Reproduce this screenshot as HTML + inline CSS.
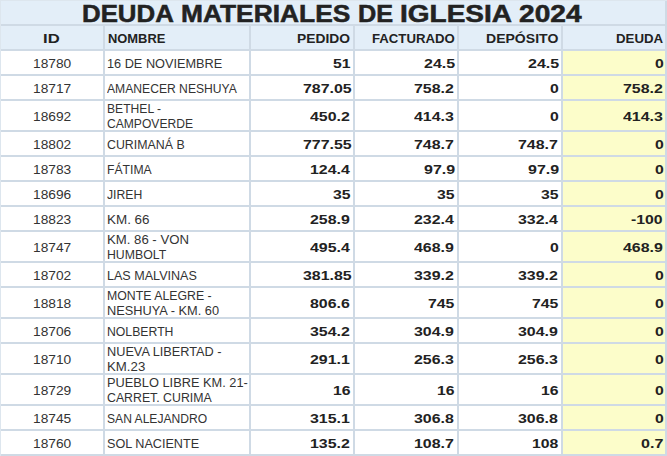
<!DOCTYPE html>
<html><head><meta charset="utf-8"><style>
html,body{margin:0;padding:0;}
body{width:667px;height:456px;overflow:hidden;background:#cfdae5;position:relative;font-family:"Liberation Sans",sans-serif;}
.b{position:absolute;}
span{position:absolute;white-space:nowrap;line-height:30px;transform-origin:0 0;}
</style></head><body>
<div class="b" style="left:0;top:0;width:1px;height:456px;background:#dde6ee"></div>
<div class="b" style="left:0;top:0;width:667px;height:1px;background:#dde6ee"></div>
<div class="b" style="left:1px;top:1px;width:664px;height:23px;background:#e3eef8"></div>
<div class="b" style="left:1px;top:26px;width:102px;height:23px;background:#e3eef8"></div>
<div class="b" style="left:105px;top:26px;width:144px;height:23px;background:#e3eef8"></div>
<div class="b" style="left:251px;top:26px;width:102px;height:23px;background:#e3eef8"></div>
<div class="b" style="left:355px;top:26px;width:102px;height:23px;background:#e3eef8"></div>
<div class="b" style="left:459px;top:26px;width:102px;height:23px;background:#e3eef8"></div>
<div class="b" style="left:563px;top:26px;width:102px;height:23px;background:#e3eef8"></div>
<div class="b" style="left:1px;top:51px;width:102px;height:23px;background:#ffffff"></div>
<div class="b" style="left:105px;top:51px;width:144px;height:23px;background:#ffffff"></div>
<div class="b" style="left:251px;top:51px;width:102px;height:23px;background:#ffffff"></div>
<div class="b" style="left:355px;top:51px;width:102px;height:23px;background:#ffffff"></div>
<div class="b" style="left:459px;top:51px;width:102px;height:23px;background:#ffffff"></div>
<div class="b" style="left:563px;top:51px;width:102px;height:23px;background:#fcfdca"></div>
<div class="b" style="left:1px;top:76px;width:102px;height:23px;background:#ffffff"></div>
<div class="b" style="left:105px;top:76px;width:144px;height:23px;background:#ffffff"></div>
<div class="b" style="left:251px;top:76px;width:102px;height:23px;background:#ffffff"></div>
<div class="b" style="left:355px;top:76px;width:102px;height:23px;background:#ffffff"></div>
<div class="b" style="left:459px;top:76px;width:102px;height:23px;background:#ffffff"></div>
<div class="b" style="left:563px;top:76px;width:102px;height:23px;background:#fcfdca"></div>
<div class="b" style="left:1px;top:101px;width:102px;height:29px;background:#ffffff"></div>
<div class="b" style="left:105px;top:101px;width:144px;height:29px;background:#ffffff"></div>
<div class="b" style="left:251px;top:101px;width:102px;height:29px;background:#ffffff"></div>
<div class="b" style="left:355px;top:101px;width:102px;height:29px;background:#ffffff"></div>
<div class="b" style="left:459px;top:101px;width:102px;height:29px;background:#ffffff"></div>
<div class="b" style="left:563px;top:101px;width:102px;height:29px;background:#fcfdca"></div>
<div class="b" style="left:1px;top:132px;width:102px;height:23px;background:#ffffff"></div>
<div class="b" style="left:105px;top:132px;width:144px;height:23px;background:#ffffff"></div>
<div class="b" style="left:251px;top:132px;width:102px;height:23px;background:#ffffff"></div>
<div class="b" style="left:355px;top:132px;width:102px;height:23px;background:#ffffff"></div>
<div class="b" style="left:459px;top:132px;width:102px;height:23px;background:#ffffff"></div>
<div class="b" style="left:563px;top:132px;width:102px;height:23px;background:#fcfdca"></div>
<div class="b" style="left:1px;top:157px;width:102px;height:23px;background:#ffffff"></div>
<div class="b" style="left:105px;top:157px;width:144px;height:23px;background:#ffffff"></div>
<div class="b" style="left:251px;top:157px;width:102px;height:23px;background:#ffffff"></div>
<div class="b" style="left:355px;top:157px;width:102px;height:23px;background:#ffffff"></div>
<div class="b" style="left:459px;top:157px;width:102px;height:23px;background:#ffffff"></div>
<div class="b" style="left:563px;top:157px;width:102px;height:23px;background:#fcfdca"></div>
<div class="b" style="left:1px;top:182px;width:102px;height:23px;background:#ffffff"></div>
<div class="b" style="left:105px;top:182px;width:144px;height:23px;background:#ffffff"></div>
<div class="b" style="left:251px;top:182px;width:102px;height:23px;background:#ffffff"></div>
<div class="b" style="left:355px;top:182px;width:102px;height:23px;background:#ffffff"></div>
<div class="b" style="left:459px;top:182px;width:102px;height:23px;background:#ffffff"></div>
<div class="b" style="left:563px;top:182px;width:102px;height:23px;background:#fcfdca"></div>
<div class="b" style="left:1px;top:207px;width:102px;height:23px;background:#ffffff"></div>
<div class="b" style="left:105px;top:207px;width:144px;height:23px;background:#ffffff"></div>
<div class="b" style="left:251px;top:207px;width:102px;height:23px;background:#ffffff"></div>
<div class="b" style="left:355px;top:207px;width:102px;height:23px;background:#ffffff"></div>
<div class="b" style="left:459px;top:207px;width:102px;height:23px;background:#ffffff"></div>
<div class="b" style="left:563px;top:207px;width:102px;height:23px;background:#fcfdca"></div>
<div class="b" style="left:1px;top:232px;width:102px;height:29px;background:#ffffff"></div>
<div class="b" style="left:105px;top:232px;width:144px;height:29px;background:#ffffff"></div>
<div class="b" style="left:251px;top:232px;width:102px;height:29px;background:#ffffff"></div>
<div class="b" style="left:355px;top:232px;width:102px;height:29px;background:#ffffff"></div>
<div class="b" style="left:459px;top:232px;width:102px;height:29px;background:#ffffff"></div>
<div class="b" style="left:563px;top:232px;width:102px;height:29px;background:#fcfdca"></div>
<div class="b" style="left:1px;top:263px;width:102px;height:23px;background:#ffffff"></div>
<div class="b" style="left:105px;top:263px;width:144px;height:23px;background:#ffffff"></div>
<div class="b" style="left:251px;top:263px;width:102px;height:23px;background:#ffffff"></div>
<div class="b" style="left:355px;top:263px;width:102px;height:23px;background:#ffffff"></div>
<div class="b" style="left:459px;top:263px;width:102px;height:23px;background:#ffffff"></div>
<div class="b" style="left:563px;top:263px;width:102px;height:23px;background:#fcfdca"></div>
<div class="b" style="left:1px;top:288px;width:102px;height:29px;background:#ffffff"></div>
<div class="b" style="left:105px;top:288px;width:144px;height:29px;background:#ffffff"></div>
<div class="b" style="left:251px;top:288px;width:102px;height:29px;background:#ffffff"></div>
<div class="b" style="left:355px;top:288px;width:102px;height:29px;background:#ffffff"></div>
<div class="b" style="left:459px;top:288px;width:102px;height:29px;background:#ffffff"></div>
<div class="b" style="left:563px;top:288px;width:102px;height:29px;background:#fcfdca"></div>
<div class="b" style="left:1px;top:319px;width:102px;height:23px;background:#ffffff"></div>
<div class="b" style="left:105px;top:319px;width:144px;height:23px;background:#ffffff"></div>
<div class="b" style="left:251px;top:319px;width:102px;height:23px;background:#ffffff"></div>
<div class="b" style="left:355px;top:319px;width:102px;height:23px;background:#ffffff"></div>
<div class="b" style="left:459px;top:319px;width:102px;height:23px;background:#ffffff"></div>
<div class="b" style="left:563px;top:319px;width:102px;height:23px;background:#fcfdca"></div>
<div class="b" style="left:1px;top:344px;width:102px;height:29px;background:#ffffff"></div>
<div class="b" style="left:105px;top:344px;width:144px;height:29px;background:#ffffff"></div>
<div class="b" style="left:251px;top:344px;width:102px;height:29px;background:#ffffff"></div>
<div class="b" style="left:355px;top:344px;width:102px;height:29px;background:#ffffff"></div>
<div class="b" style="left:459px;top:344px;width:102px;height:29px;background:#ffffff"></div>
<div class="b" style="left:563px;top:344px;width:102px;height:29px;background:#fcfdca"></div>
<div class="b" style="left:1px;top:375px;width:102px;height:29px;background:#ffffff"></div>
<div class="b" style="left:105px;top:375px;width:144px;height:29px;background:#ffffff"></div>
<div class="b" style="left:251px;top:375px;width:102px;height:29px;background:#ffffff"></div>
<div class="b" style="left:355px;top:375px;width:102px;height:29px;background:#ffffff"></div>
<div class="b" style="left:459px;top:375px;width:102px;height:29px;background:#ffffff"></div>
<div class="b" style="left:563px;top:375px;width:102px;height:29px;background:#fcfdca"></div>
<div class="b" style="left:1px;top:406px;width:102px;height:23px;background:#ffffff"></div>
<div class="b" style="left:105px;top:406px;width:144px;height:23px;background:#ffffff"></div>
<div class="b" style="left:251px;top:406px;width:102px;height:23px;background:#ffffff"></div>
<div class="b" style="left:355px;top:406px;width:102px;height:23px;background:#ffffff"></div>
<div class="b" style="left:459px;top:406px;width:102px;height:23px;background:#ffffff"></div>
<div class="b" style="left:563px;top:406px;width:102px;height:23px;background:#fcfdca"></div>
<div class="b" style="left:1px;top:431px;width:102px;height:23px;background:#ffffff"></div>
<div class="b" style="left:105px;top:431px;width:144px;height:23px;background:#ffffff"></div>
<div class="b" style="left:251px;top:431px;width:102px;height:23px;background:#ffffff"></div>
<div class="b" style="left:355px;top:431px;width:102px;height:23px;background:#ffffff"></div>
<div class="b" style="left:459px;top:431px;width:102px;height:23px;background:#ffffff"></div>
<div class="b" style="left:563px;top:431px;width:102px;height:23px;background:#fcfdca"></div>
<span style="left:82.45px;top:-1.00px;font-weight:bold;font-size:23px;color:#222222;transform:scaleX(1.1228);-webkit-text-stroke:0.5px #222222">DEUDA</span>
<span style="left:181.11px;top:-1.00px;font-weight:bold;font-size:23px;color:#222222;transform:scaleX(1.1455);-webkit-text-stroke:0.5px #222222">MATERIALES</span>
<span style="left:357.50px;top:-1.00px;font-weight:bold;font-size:23px;color:#222222;transform:scaleX(1.1000);-webkit-text-stroke:0.5px #222222">DE</span>
<span style="left:399.77px;top:-1.00px;font-weight:bold;font-size:23px;color:#222222;transform:scaleX(1.2169);-webkit-text-stroke:0.5px #222222">IGLESIA</span>
<span style="left:519.18px;top:-1.00px;font-weight:bold;font-size:23px;color:#222222;transform:scaleX(1.2220);-webkit-text-stroke:0.5px #222222">2024</span>
<span style="left:42.91px;top:24.00px;font-weight:bold;font-size:12px;color:#222222;transform:scaleX(1.3909)">ID</span>
<span style="left:107.87px;top:24.00px;font-weight:bold;font-size:12px;color:#222222;transform:scaleX(1.0760)">NOMBRE</span>
<span style="left:296.65px;top:24.00px;font-weight:bold;font-size:12px;color:#222222;transform:scaleX(1.1511)">PEDIDO</span>
<span style="left:371.50px;top:24.00px;font-weight:bold;font-size:12px;color:#222222;transform:scaleX(1.0986)">FACTURADO</span>
<span style="left:486.43px;top:24.00px;font-weight:bold;font-size:12px;color:#222222;transform:scaleX(1.1700)">DEPÓSITO</span>
<span style="left:615.80px;top:24.00px;font-weight:bold;font-size:12px;color:#222222;transform:scaleX(1.1049)">DEUDA</span>
<span style="left:32.85px;top:49.00px;font-weight:normal;font-size:12px;color:#333333;transform:scaleX(1.1442)">18780</span>
<span style="left:107.00px;top:49.00px;font-weight:normal;font-size:12px;color:#333333;transform:scaleX(1.0602)">16 DE NOVIEMBRE</span>
<span style="left:333.23px;top:49.00px;font-weight:bold;font-size:12px;color:#222222;transform:scaleX(1.3128)">51</span>
<span style="left:423.69px;top:49.00px;font-weight:bold;font-size:12px;color:#222222;transform:scaleX(1.3309)">24.5</span>
<span style="left:527.59px;top:49.00px;font-weight:bold;font-size:12px;color:#222222;transform:scaleX(1.3309)">24.5</span>
<span style="left:654.62px;top:49.00px;font-weight:bold;font-size:12px;color:#222222;transform:scaleX(1.3125)">0</span>
<span style="left:32.85px;top:74.00px;font-weight:normal;font-size:12px;color:#333333;transform:scaleX(1.1442)">18717</span>
<span style="left:107.00px;top:74.00px;font-weight:normal;font-size:12px;color:#333333;transform:scaleX(1.0109)">AMANECER NESHUYA</span>
<span style="left:302.60px;top:74.00px;font-weight:bold;font-size:12px;color:#222222;transform:scaleX(1.3249)">787.05</span>
<span style="left:414.47px;top:74.00px;font-weight:bold;font-size:12px;color:#222222;transform:scaleX(1.3275)">758.2</span>
<span style="left:550.33px;top:74.00px;font-weight:bold;font-size:12px;color:#222222;transform:scaleX(1.3125)">0</span>
<span style="left:622.67px;top:74.00px;font-weight:bold;font-size:12px;color:#222222;transform:scaleX(1.3275)">758.2</span>
<span style="left:32.85px;top:102.00px;font-weight:normal;font-size:12px;color:#333333;transform:scaleX(1.1442)">18692</span>
<span style="left:107.00px;top:94.00px;font-weight:normal;font-size:12px;color:#333333;transform:scaleX(1.0094)">BETHEL -</span>
<span style="left:107.00px;top:109.00px;font-weight:normal;font-size:12px;color:#333333;transform:scaleX(1.0071)">CAMPOVERDE</span>
<span style="left:310.47px;top:102.00px;font-weight:bold;font-size:12px;color:#222222;transform:scaleX(1.3275)">450.2</span>
<span style="left:414.47px;top:102.00px;font-weight:bold;font-size:12px;color:#222222;transform:scaleX(1.3275)">414.3</span>
<span style="left:550.33px;top:102.00px;font-weight:bold;font-size:12px;color:#222222;transform:scaleX(1.3125)">0</span>
<span style="left:622.67px;top:102.00px;font-weight:bold;font-size:12px;color:#222222;transform:scaleX(1.3275)">414.3</span>
<span style="left:32.85px;top:130.00px;font-weight:normal;font-size:12px;color:#333333;transform:scaleX(1.1442)">18802</span>
<span style="left:107.00px;top:130.00px;font-weight:normal;font-size:12px;color:#333333;transform:scaleX(1.0307)">CURIMANÁ B</span>
<span style="left:302.60px;top:130.00px;font-weight:bold;font-size:12px;color:#222222;transform:scaleX(1.3249)">777.55</span>
<span style="left:414.47px;top:130.00px;font-weight:bold;font-size:12px;color:#222222;transform:scaleX(1.3275)">748.7</span>
<span style="left:518.37px;top:130.00px;font-weight:bold;font-size:12px;color:#222222;transform:scaleX(1.3275)">748.7</span>
<span style="left:654.62px;top:130.00px;font-weight:bold;font-size:12px;color:#222222;transform:scaleX(1.3125)">0</span>
<span style="left:32.85px;top:155.00px;font-weight:normal;font-size:12px;color:#333333;transform:scaleX(1.1442)">18783</span>
<span style="left:107.00px;top:155.00px;font-weight:normal;font-size:12px;color:#333333;transform:scaleX(1.0159)">FÁTIMA</span>
<span style="left:310.47px;top:155.00px;font-weight:bold;font-size:12px;color:#222222;transform:scaleX(1.3275)">124.4</span>
<span style="left:423.69px;top:155.00px;font-weight:bold;font-size:12px;color:#222222;transform:scaleX(1.3309)">97.9</span>
<span style="left:527.59px;top:155.00px;font-weight:bold;font-size:12px;color:#222222;transform:scaleX(1.3309)">97.9</span>
<span style="left:654.62px;top:155.00px;font-weight:bold;font-size:12px;color:#222222;transform:scaleX(1.3125)">0</span>
<span style="left:32.85px;top:180.00px;font-weight:normal;font-size:12px;color:#333333;transform:scaleX(1.1442)">18696</span>
<span style="left:107.00px;top:180.00px;font-weight:normal;font-size:12px;color:#333333;transform:scaleX(1.0176)">JIREH</span>
<span style="left:333.23px;top:180.00px;font-weight:bold;font-size:12px;color:#222222;transform:scaleX(1.3128)">35</span>
<span style="left:437.23px;top:180.00px;font-weight:bold;font-size:12px;color:#222222;transform:scaleX(1.3128)">35</span>
<span style="left:541.13px;top:180.00px;font-weight:bold;font-size:12px;color:#222222;transform:scaleX(1.3128)">35</span>
<span style="left:654.62px;top:180.00px;font-weight:bold;font-size:12px;color:#222222;transform:scaleX(1.3125)">0</span>
<span style="left:32.85px;top:205.00px;font-weight:normal;font-size:12px;color:#333333;transform:scaleX(1.1442)">18823</span>
<span style="left:107.00px;top:205.00px;font-weight:normal;font-size:12px;color:#333333;transform:scaleX(1.1189)">KM. 66</span>
<span style="left:310.47px;top:205.00px;font-weight:bold;font-size:12px;color:#222222;transform:scaleX(1.3275)">258.9</span>
<span style="left:414.47px;top:205.00px;font-weight:bold;font-size:12px;color:#222222;transform:scaleX(1.3275)">232.4</span>
<span style="left:518.37px;top:205.00px;font-weight:bold;font-size:12px;color:#222222;transform:scaleX(1.3275)">332.4</span>
<span style="left:631.01px;top:205.00px;font-weight:bold;font-size:12px;color:#222222;transform:scaleX(1.3122)">-100</span>
<span style="left:32.85px;top:233.00px;font-weight:normal;font-size:12px;color:#333333;transform:scaleX(1.1442)">18747</span>
<span style="left:107.00px;top:225.00px;font-weight:normal;font-size:12px;color:#333333;transform:scaleX(1.0973)">KM. 86 - VON</span>
<span style="left:107.00px;top:240.00px;font-weight:normal;font-size:12px;color:#333333;transform:scaleX(1.0241)">HUMBOLT</span>
<span style="left:310.47px;top:233.00px;font-weight:bold;font-size:12px;color:#222222;transform:scaleX(1.3275)">495.4</span>
<span style="left:414.47px;top:233.00px;font-weight:bold;font-size:12px;color:#222222;transform:scaleX(1.3275)">468.9</span>
<span style="left:550.33px;top:233.00px;font-weight:bold;font-size:12px;color:#222222;transform:scaleX(1.3125)">0</span>
<span style="left:622.67px;top:233.00px;font-weight:bold;font-size:12px;color:#222222;transform:scaleX(1.3275)">468.9</span>
<span style="left:32.85px;top:261.00px;font-weight:normal;font-size:12px;color:#333333;transform:scaleX(1.1442)">18702</span>
<span style="left:107.00px;top:261.00px;font-weight:normal;font-size:12px;color:#333333;transform:scaleX(1.0471)">LAS MALVINAS</span>
<span style="left:302.60px;top:261.00px;font-weight:bold;font-size:12px;color:#222222;transform:scaleX(1.3249)">381.85</span>
<span style="left:414.47px;top:261.00px;font-weight:bold;font-size:12px;color:#222222;transform:scaleX(1.3275)">339.2</span>
<span style="left:518.37px;top:261.00px;font-weight:bold;font-size:12px;color:#222222;transform:scaleX(1.3275)">339.2</span>
<span style="left:654.62px;top:261.00px;font-weight:bold;font-size:12px;color:#222222;transform:scaleX(1.3125)">0</span>
<span style="left:32.85px;top:289.00px;font-weight:normal;font-size:12px;color:#333333;transform:scaleX(1.1442)">18818</span>
<span style="left:107.00px;top:281.00px;font-weight:normal;font-size:12px;color:#333333;transform:scaleX(1.0265)">MONTE ALEGRE -</span>
<span style="left:107.00px;top:296.00px;font-weight:normal;font-size:12px;color:#333333;transform:scaleX(1.0657)">NESHUYA - KM. 60</span>
<span style="left:310.47px;top:289.00px;font-weight:bold;font-size:12px;color:#222222;transform:scaleX(1.3275)">806.6</span>
<span style="left:428.03px;top:289.00px;font-weight:bold;font-size:12px;color:#222222;transform:scaleX(1.3137)">745</span>
<span style="left:531.93px;top:289.00px;font-weight:bold;font-size:12px;color:#222222;transform:scaleX(1.3137)">745</span>
<span style="left:654.62px;top:289.00px;font-weight:bold;font-size:12px;color:#222222;transform:scaleX(1.3125)">0</span>
<span style="left:32.85px;top:317.00px;font-weight:normal;font-size:12px;color:#333333;transform:scaleX(1.1442)">18706</span>
<span style="left:107.00px;top:317.00px;font-weight:normal;font-size:12px;color:#333333;transform:scaleX(1.0203)">NOLBERTH</span>
<span style="left:310.47px;top:317.00px;font-weight:bold;font-size:12px;color:#222222;transform:scaleX(1.3275)">354.2</span>
<span style="left:414.47px;top:317.00px;font-weight:bold;font-size:12px;color:#222222;transform:scaleX(1.3275)">304.9</span>
<span style="left:518.37px;top:317.00px;font-weight:bold;font-size:12px;color:#222222;transform:scaleX(1.3275)">304.9</span>
<span style="left:654.62px;top:317.00px;font-weight:bold;font-size:12px;color:#222222;transform:scaleX(1.3125)">0</span>
<span style="left:32.85px;top:345.00px;font-weight:normal;font-size:12px;color:#333333;transform:scaleX(1.1442)">18710</span>
<span style="left:107.00px;top:337.00px;font-weight:normal;font-size:12px;color:#333333;transform:scaleX(1.0602)">NUEVA LIBERTAD -</span>
<span style="left:107.00px;top:352.00px;font-weight:normal;font-size:12px;color:#333333;transform:scaleX(1.1029)">KM.23</span>
<span style="left:310.47px;top:345.00px;font-weight:bold;font-size:12px;color:#222222;transform:scaleX(1.3275)">291.1</span>
<span style="left:414.47px;top:345.00px;font-weight:bold;font-size:12px;color:#222222;transform:scaleX(1.3275)">256.3</span>
<span style="left:518.37px;top:345.00px;font-weight:bold;font-size:12px;color:#222222;transform:scaleX(1.3275)">256.3</span>
<span style="left:654.62px;top:345.00px;font-weight:bold;font-size:12px;color:#222222;transform:scaleX(1.3125)">0</span>
<span style="left:32.85px;top:376.00px;font-weight:normal;font-size:12px;color:#333333;transform:scaleX(1.1442)">18729</span>
<span style="left:107.00px;top:368.00px;font-weight:normal;font-size:12px;color:#333333;transform:scaleX(1.0667)">PUEBLO LIBRE KM. 21-</span>
<span style="left:107.00px;top:383.00px;font-weight:normal;font-size:12px;color:#333333;transform:scaleX(1.0265)">CARRET. CURIMA</span>
<span style="left:333.23px;top:376.00px;font-weight:bold;font-size:12px;color:#222222;transform:scaleX(1.3128)">16</span>
<span style="left:437.23px;top:376.00px;font-weight:bold;font-size:12px;color:#222222;transform:scaleX(1.3128)">16</span>
<span style="left:541.13px;top:376.00px;font-weight:bold;font-size:12px;color:#222222;transform:scaleX(1.3128)">16</span>
<span style="left:654.62px;top:376.00px;font-weight:bold;font-size:12px;color:#222222;transform:scaleX(1.3125)">0</span>
<span style="left:32.85px;top:404.00px;font-weight:normal;font-size:12px;color:#333333;transform:scaleX(1.1442)">18745</span>
<span style="left:107.00px;top:404.00px;font-weight:normal;font-size:12px;color:#333333;transform:scaleX(1.0081)">SAN ALEJANDRO</span>
<span style="left:310.47px;top:404.00px;font-weight:bold;font-size:12px;color:#222222;transform:scaleX(1.3275)">315.1</span>
<span style="left:414.47px;top:404.00px;font-weight:bold;font-size:12px;color:#222222;transform:scaleX(1.3275)">306.8</span>
<span style="left:518.37px;top:404.00px;font-weight:bold;font-size:12px;color:#222222;transform:scaleX(1.3275)">306.8</span>
<span style="left:654.62px;top:404.00px;font-weight:bold;font-size:12px;color:#222222;transform:scaleX(1.3125)">0</span>
<span style="left:32.85px;top:429.00px;font-weight:normal;font-size:12px;color:#333333;transform:scaleX(1.1442)">18760</span>
<span style="left:107.00px;top:429.00px;font-weight:normal;font-size:12px;color:#333333;transform:scaleX(1.0517)">SOL NACIENTE</span>
<span style="left:310.47px;top:429.00px;font-weight:bold;font-size:12px;color:#222222;transform:scaleX(1.3275)">135.2</span>
<span style="left:414.47px;top:429.00px;font-weight:bold;font-size:12px;color:#222222;transform:scaleX(1.3275)">108.7</span>
<span style="left:531.93px;top:429.00px;font-weight:bold;font-size:12px;color:#222222;transform:scaleX(1.3137)">108</span>
<span style="left:641.09px;top:429.00px;font-weight:bold;font-size:12px;color:#222222;transform:scaleX(1.3381)">0.7</span>
</body></html>
